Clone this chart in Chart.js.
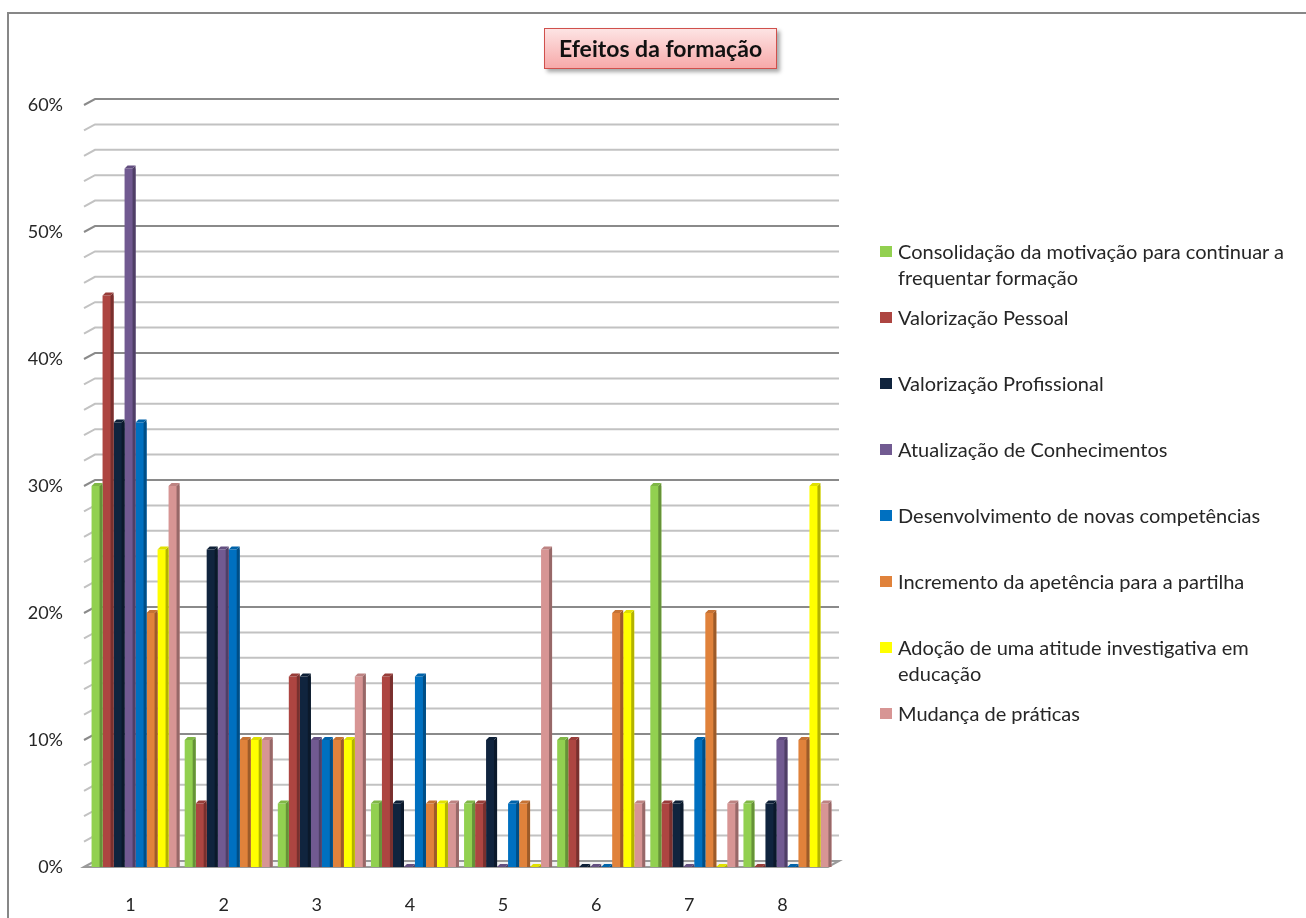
<!DOCTYPE html>
<html lang="pt">
<head>
<meta charset="utf-8">
<title>Efeitos da formação</title>
<script src="https://cdn.jsdelivr.net/npm/chart.js@4.4.1/dist/chart.umd.min.js"></script>
<style>
  html, body { margin:0; padding:0; background:#fff; }
  #wrap { position:relative; width:1306px; height:918px; overflow:hidden; font-family:Lato, "Open Sans", sans-serif; color:#262626; }
  #frame { position:absolute; left:7px; top:12px; width:1400px; height:1000px; border-left:2px solid #878787; border-top:2px solid #878787; pointer-events:none; }
  #title {
    position:absolute; left:544px; top:28px; width:231px; height:39px;
    border:1px solid #d0504c; box-shadow:3px 3px 4px rgba(0,0,0,.35);
    background:linear-gradient(#fde4e4, #f7a9a9);
    font-weight:bold; font-size:23px; line-height:39px; text-align:center; color:#111;
  }
  .lg { position:absolute; left:880px; width:420px; font-size:20px; line-height:26px; }
  .lg i { position:absolute; left:0; top:8px; width:12px; height:11px; }
  .lg span { display:block; margin-left:18px; width:402px; }
</style>
</head>
<body>
<div id="wrap">
  <canvas id="chart" width="1306" height="918"></canvas>
  <div id="frame"></div>
  <div id="title">Efeitos da formação</div>
  <div id="legend"></div>
</div>
<script>
// Dados (percentagens)
const categories = ['1','2','3','4','5','6','7','8'];

const seriesNames = [
  'Consolidação da motivação para continuar a frequentar formação',
  'Valorização Pessoal',
  'Valorização Profissional',
  'Atualização de Conhecimentos',
  'Desenvolvimento de novas competências',
  'Incremento da apetência para a partilha',
  'Adoção de uma atitude investigativa em educação',
  'Mudança de práticas'
];

const seriesColors = ['#92d050','#ad4541','#10243e','#715a91','#0070c0','#e0823b','#ffff00','#d79594'];

const consolidacao   = [30, 10,  5,  5,  5, 10, 30,  5];
const valPessoal     = [45,  5, 15, 15,  5, 10,  5,  0];
const valProfissional= [35, 25, 15,  5, 10,  0,  5,  5];
const atualizacao    = [55, 25, 10,  0,  0,  0,  0, 10];
const competencias   = [35, 25, 10, 15,  5,  0, 10,  0];
const partilha       = [20, 10, 10,  5,  5, 20, 20, 10];
const investigativa  = [25, 10, 10,  5,  0, 20,  0, 30];
const praticas       = [30, 10, 15,  5, 25,  5,  5,  5];

const seriesValues = [consolidacao, valPessoal, valProfissional, atualizacao, competencias, partilha, investigativa, praticas];

const yMax = 60;
const yStep = 2;

// Helpers
function shade(hex, f){
  const n = parseInt(hex.slice(1), 16);
  let r = n >> 16, g = (n >> 8) & 255, b = n & 255;
  const adj = c => Math.round(f < 0 ? c * (1 + f) : c + (255 - c) * f);
  return `rgb(${adj(r)},${adj(g)},${adj(b)})`;
}

// Legenda (HTML para permitir quebra de linha)
const legendEl = document.getElementById('legend');
seriesNames.forEach((name, i) => {
  const d = document.createElement('div');
  d.className = 'lg';
  d.style.top = (238 + i * 66) + 'px';
  d.innerHTML = `<i style="background:${seriesColors[i]}"></i><span>${name}</span>`;
  legendEl.appendChild(d);
});

// Grelha com "profundidade" (efeito 3D)
const DEPTH_X = 11, DEPTH_Y = 6, SHIFT = 5;
const gridPlugin = {
  id: 'grid3d',
  beforeDatasetsDraw(chart){
    const {ctx, chartArea:{left, right}} = chart;
    const ys = chart.scales.y;
    const fl = left - SHIFT, fr = right - SHIFT - 1;
    ctx.save();
    ctx.lineWidth = 2;
    ys.ticks.forEach(t => {
      const yf = ys.getPixelForValue(t.value);
      const yb = yf - DEPTH_Y;
      if (t.value === 0){
        ctx.fillStyle = '#f2f2f2';
        ctx.strokeStyle = '#9a9a9a';
        ctx.beginPath();
        ctx.moveTo(fl, yf); ctx.lineTo(fl + DEPTH_X, yb);
        ctx.lineTo(fr + DEPTH_X, yb); ctx.lineTo(fr, yf);
        ctx.closePath(); ctx.fill(); ctx.stroke();
        return;
      }
      ctx.strokeStyle = t.value % 10 === 0 ? '#8a8a8a' : '#c2c2c2';
      ctx.beginPath();
      ctx.moveTo(fl, yf);
      ctx.lineTo(fl + DEPTH_X, yb);
      ctx.lineTo(fr + DEPTH_X, yb);
      ctx.stroke();
    });
    ctx.restore();
  }
};

// Faces lateral e superior das barras
const barPlugin = {
  id: 'bar3d',
  afterDatasetsDraw(chart){
    const ctx = chart.ctx;
    const d = 3;
    ctx.save();
    chart.data.datasets.forEach((ds, i) => {
      const meta = chart.getDatasetMeta(i);
      meta.data.forEach(bar => {
        const {x, y, base, width} = bar.getProps(['x','y','base','width'], true);
        const l = x - width / 2, r = x + width / 2;
        ctx.fillStyle = shade(ds.backgroundColor, -0.3);
        ctx.beginPath();
        ctx.moveTo(r - d, y); ctx.lineTo(r, y - d); ctx.lineTo(r, base); ctx.lineTo(r - d, base);
        ctx.closePath(); ctx.fill();
        ctx.fillStyle = shade(ds.backgroundColor, -0.12);
        ctx.beginPath();
        ctx.moveTo(l, y); ctx.lineTo(l + d, y - d); ctx.lineTo(r, y - d); ctx.lineTo(r - d, y);
        ctx.closePath(); ctx.fill();
      });
    });
    ctx.restore();
  }
};

Chart.defaults.font.family = 'Lato, "Open Sans", sans-serif';
Chart.defaults.color = '#262626';

new Chart(document.getElementById('chart'), {
  type: 'bar',
  data: {
    labels: categories,
    datasets: seriesValues.map((vals, i) => ({
      label: seriesNames[i],
      data: vals,
      backgroundColor: seriesColors[i],
      borderWidth: 0,
      categoryPercentage: 0.945,
      barPercentage: 1.0
    }))
  },
  options: {
    responsive: false,
    animation: false,
    layout: { padding: { top: 105, right: 472, left: 0, bottom: 0 } },
    plugins: { legend: { display: false }, title: { display: false }, tooltip: { enabled: false } },
    scales: {
      x: {
        grid: { display: false },
        border: { display: false },
        ticks: { font: { size: 18 }, padding: 19, labelOffset: -SHIFT },
        afterFit: s => { s.height = 51; }
      },
      y: {
        min: 0, max: yMax,
        grid: { display: false, drawTicks: false },
        border: { display: false },
        ticks: {
          stepSize: yStep, autoSkip: false, padding: 26,
          font: { size: 18 },
          callback: v => v % 10 === 0 ? v + '%' : ''
        },
        afterFit: s => { s.width = 89; }
      }
    }
  },
  plugins: [gridPlugin, barPlugin]
});
</script>
</body>
</html>
